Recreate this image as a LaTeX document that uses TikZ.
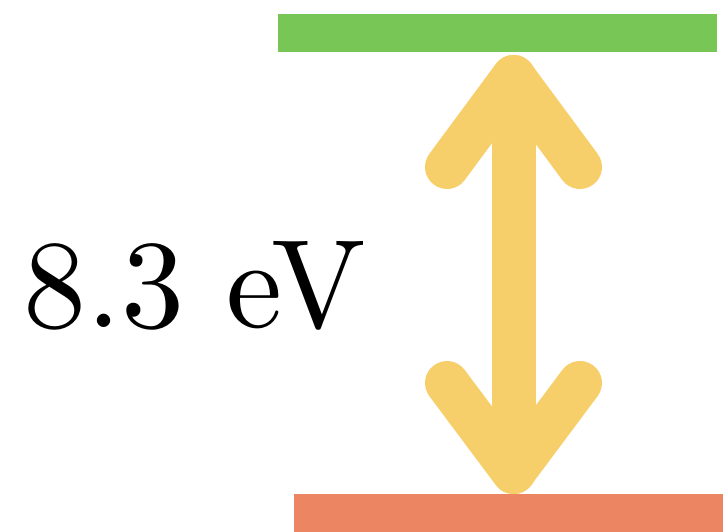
\documentclass[tikz,border=0pt]{standalone}
\usepackage{fontspec}
\newfontfamily\lmten{lmroman10-regular.otf}
\definecolor{bargreen}{HTML}{78C656}
\definecolor{barorange}{HTML}{EC8561}
\definecolor{arrowyellow}{HTML}{F6CF6B}
\tikzset{
  bigarrow/.style={draw=arrowyellow, line width=44pt, line cap=round, line join=round},
  energylabel/.style={anchor=base west, inner sep=0pt, font=\lmten\fontsize{126}{150}\selectfont}
}
\begin{document}
\begin{tikzpicture}[x=1pt,y=-1pt]
\useasboundingbox (0,0) rectangle (723,532);
\fill[bargreen] (278,14) rectangle (717,52);
\fill[barorange] (294,494) rectangle (723,532);
\coordinate (top) at (513.5,77);
\coordinate (bot) at (513.5,472);
\coordinate (tl) at (447,167);
\coordinate (tr) at (580,167);
\coordinate (bl) at (447,383);
\coordinate (br) at (580,383);
\draw[bigarrow] (top) -- (bot);
\draw[bigarrow] (tl) -- (top) -- (tr);
\draw[bigarrow] (bl) -- (bot) -- (br);
\node[energylabel] (lbl) at (23,327) {8.3 eV};
\end{tikzpicture}
\end{document}
